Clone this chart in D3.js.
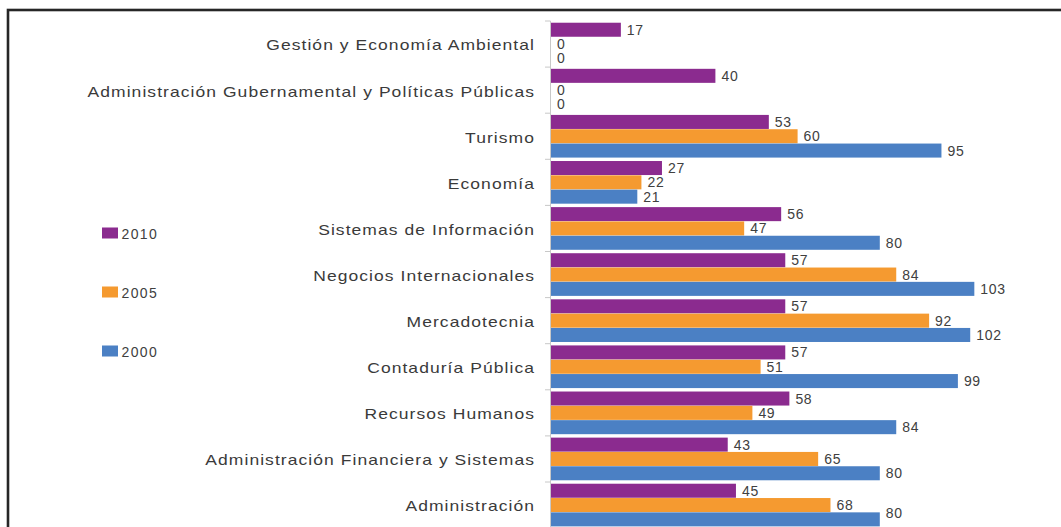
<!DOCTYPE html>
<html>
<head>
<meta charset="utf-8">
<script src="https://cdn.jsdelivr.net/npm/d3@7/dist/d3.min.js"></script>
<style>
  html, body { margin: 0; padding: 0; background: #ffffff; }
  svg { display: block; font-family: "Liberation Sans", Arial, sans-serif; }
</style>
</head>
<body>
<svg id="chart" width="1061" height="527"></svg>
<script>
// Programmes, top to bottom
const categories = [
  "Gestión y Economía Ambiental",
  "Administración Gubernamental y Políticas Públicas",
  "Turismo",
  "Economía",
  "Sistemas de Información",
  "Negocios Internacionales",
  "Mercadotecnia",
  "Contaduría Pública",
  "Recursos Humanos",
  "Administración Financiera y Sistemas",
  "Administración"
];
const seriesNames = ["2010", "2005", "2000"];
const values2010 = [17, 40, 53, 27, 56, 57, 57, 57, 58, 43, 45];
const values2005 = [0, 0, 60, 22, 47, 84, 92, 51, 49, 65, 68];
const values2000 = [0, 0, 95, 21, 80, 103, 102, 99, 84, 80, 80];
const seriesColors = ["#8b2b8f", "#f59a30", "#4b80c4"];

const seriesValues = [values2010, values2005, values2000];
const rows = categories.map((c, i) => ({
  category: c,
  bars: seriesNames.map((s, j) => ({ series: s, value: seriesValues[j][i], color: seriesColors[j] }))
}));

const W = 1061, H = 527;
const svg = d3.select("#chart");

// outer frame
svg.append("rect")
  .attr("x", 8).attr("y", 10)
  .attr("width", W + 20).attr("height", H + 20)
  .attr("fill", "none")
  .attr("stroke", "#262626")
  .attr("stroke-width", 2.6);

const plotLeft = 551, plotTop = 21, bandStep = 46.1;
const x = d3.scaleLinear().domain([0, 120]).range([plotLeft, plotLeft + 120 * 4.11]);
const y0 = d3.scaleBand().domain(categories)
  .range([plotTop, plotTop + bandStep * categories.length])
  .paddingInner(0).paddingOuter(0);
const y1 = d3.scaleBand().domain(seriesNames)
  .range([0, y0.bandwidth()])
  .paddingInner(0.02).paddingOuter(0.12);

// category axis
const axis = d3.axisLeft(y0).tickSize(0).tickPadding(0).tickFormat("");
const axisG = svg.append("g").attr("transform", `translate(${plotLeft - 0.5},0)`).call(axis);
axisG.select(".domain").attr("stroke", "#c8c8c8").attr("stroke-width", 1)
  .attr("d", `M0,${plotTop}V${H + 5}`);

// boundary tick marks between categories
const boundaries = d3.range(categories.length + 1).map(i => plotTop + i * bandStep);
svg.append("g").selectAll("line").data(boundaries).join("line")
  .attr("x1", plotLeft - 6).attr("x2", plotLeft - 0.5)
  .attr("y1", d => d).attr("y2", d => d)
  .attr("stroke", "#c8c8c8").attr("stroke-width", 1);

// category labels
svg.append("g").selectAll("text").data(categories).join("text")
  .attr("transform", d => `translate(535,${y0(d) + y0.bandwidth() / 2 + 1.5}) scale(1.25,1)`)
  .attr("text-anchor", "end")
  .attr("dominant-baseline", "central")
  .attr("font-size", 14)
  .attr("letter-spacing", "0.85px")
  .attr("fill", "#3a3a3a")
  .text(d => d);

// bars
const groups = svg.append("g").selectAll("g").data(rows).join("g")
  .attr("transform", d => `translate(0,${y0(d.category)})`);

groups.selectAll("rect").data(d => d.bars).join("rect")
  .attr("x", x(0))
  .attr("y", d => y1(d.series))
  .attr("width", d => x(d.value) - x(0))
  .attr("height", y1.bandwidth())
  .attr("fill", d => d.color);

// value labels (kept inside the visible area at the bottom)
const labelMaxY = H - 14;
groups.selectAll("text").data(d => d.bars.map(b => Object.assign({ top: y0(d.category) }, b))).join("text")
  .attr("x", d => x(d.value) + 6)
  .attr("y", d => Math.min(d.top + y1(d.series) + y1.bandwidth() / 2, labelMaxY) - d.top)
  .attr("dominant-baseline", "central")
  .attr("font-size", 14)
  .attr("letter-spacing", "0.7px")
  .attr("fill", "#404040")
  .text(d => d.value);

// legend
const legend = svg.append("g").selectAll("g").data(seriesNames).join("g")
  .attr("transform", (d, i) => `translate(102,${233 + i * 59})`);
legend.append("rect")
  .attr("x", 0).attr("y", -5.5)
  .attr("width", 16).attr("height", 11)
  .attr("fill", (d, i) => seriesColors[i]);
legend.append("text")
  .attr("x", 19.5).attr("y", 0.5)
  .attr("dominant-baseline", "central")
  .attr("font-size", 14)
  .attr("letter-spacing", "1.4px")
  .attr("fill", "#404040")
  .text(d => d);
</script>
</body>
</html>
